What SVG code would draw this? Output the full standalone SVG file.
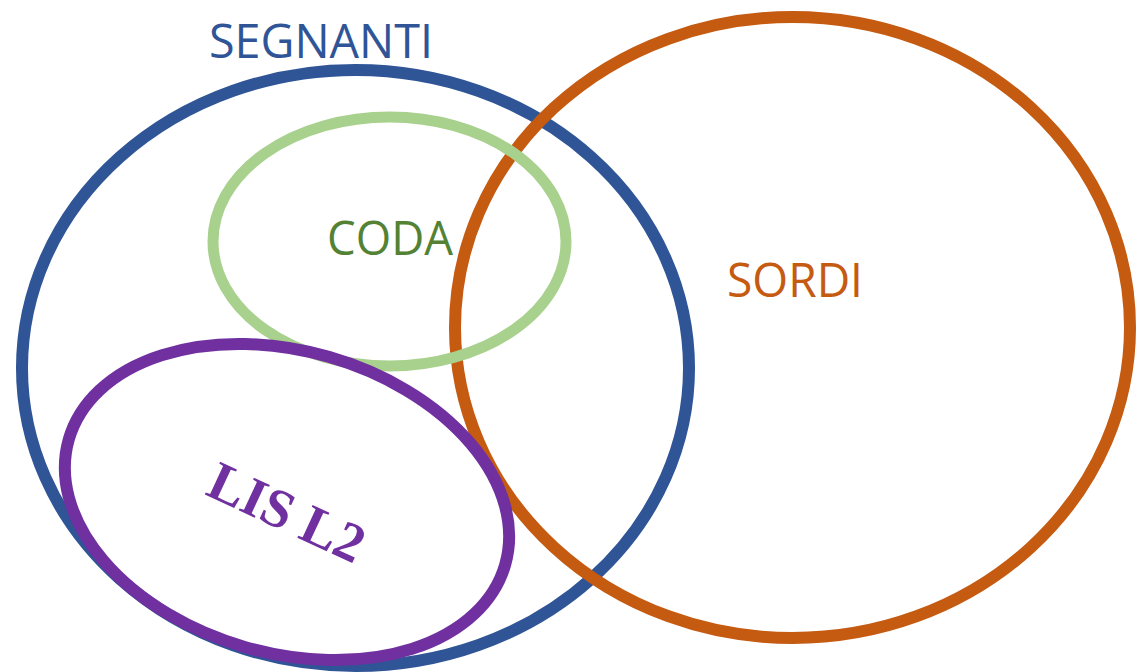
<svg xmlns="http://www.w3.org/2000/svg" width="1136" height="672" viewBox="0 0 1136 672">
<style>
.ring{fill:none;stroke-width:12}
.lbl{font-family:"Open Sans","Liberation Sans",sans-serif;font-size:48px}
</style>
<rect width="1136" height="672" fill="#ffffff"/>
<g id="segnanti">
<ellipse class="ring" cx="355.5" cy="368" rx="333.5" ry="298" stroke="#2F5597"/>
<text class="lbl" x="209" y="58" fill="#2F5597" textLength="224" lengthAdjust="spacingAndGlyphs">SEGNANTI</text>
</g>
<g id="sordi">
<ellipse class="ring" cx="792.5" cy="327.5" rx="337.5" ry="310.5" stroke="#C55A11"/>
<text class="lbl" x="727" y="297" fill="#C55A11" textLength="136" lengthAdjust="spacingAndGlyphs">SORDI</text>
</g>
<g id="coda">
<ellipse cx="389.5" cy="241.5" rx="176.5" ry="124.5" fill="none" stroke="#A9D18E" stroke-width="11"/>
<text class="lbl" x="327" y="255" fill="#548235" textLength="126" lengthAdjust="spacingAndGlyphs">CODA</text>
</g>
<g id="lis-l2">
<ellipse class="ring" cx="287" cy="502" rx="227" ry="151" transform="rotate(16 287 502)" stroke="#7030A0"/>
<text x="204" y="494" transform="rotate(25 204 494)" fill="#7030A0" font-family="'Liberation Serif','Times New Roman',serif" font-weight="bold" font-size="55" textLength="166" lengthAdjust="spacingAndGlyphs">LIS L2</text>
</g>
</svg>
